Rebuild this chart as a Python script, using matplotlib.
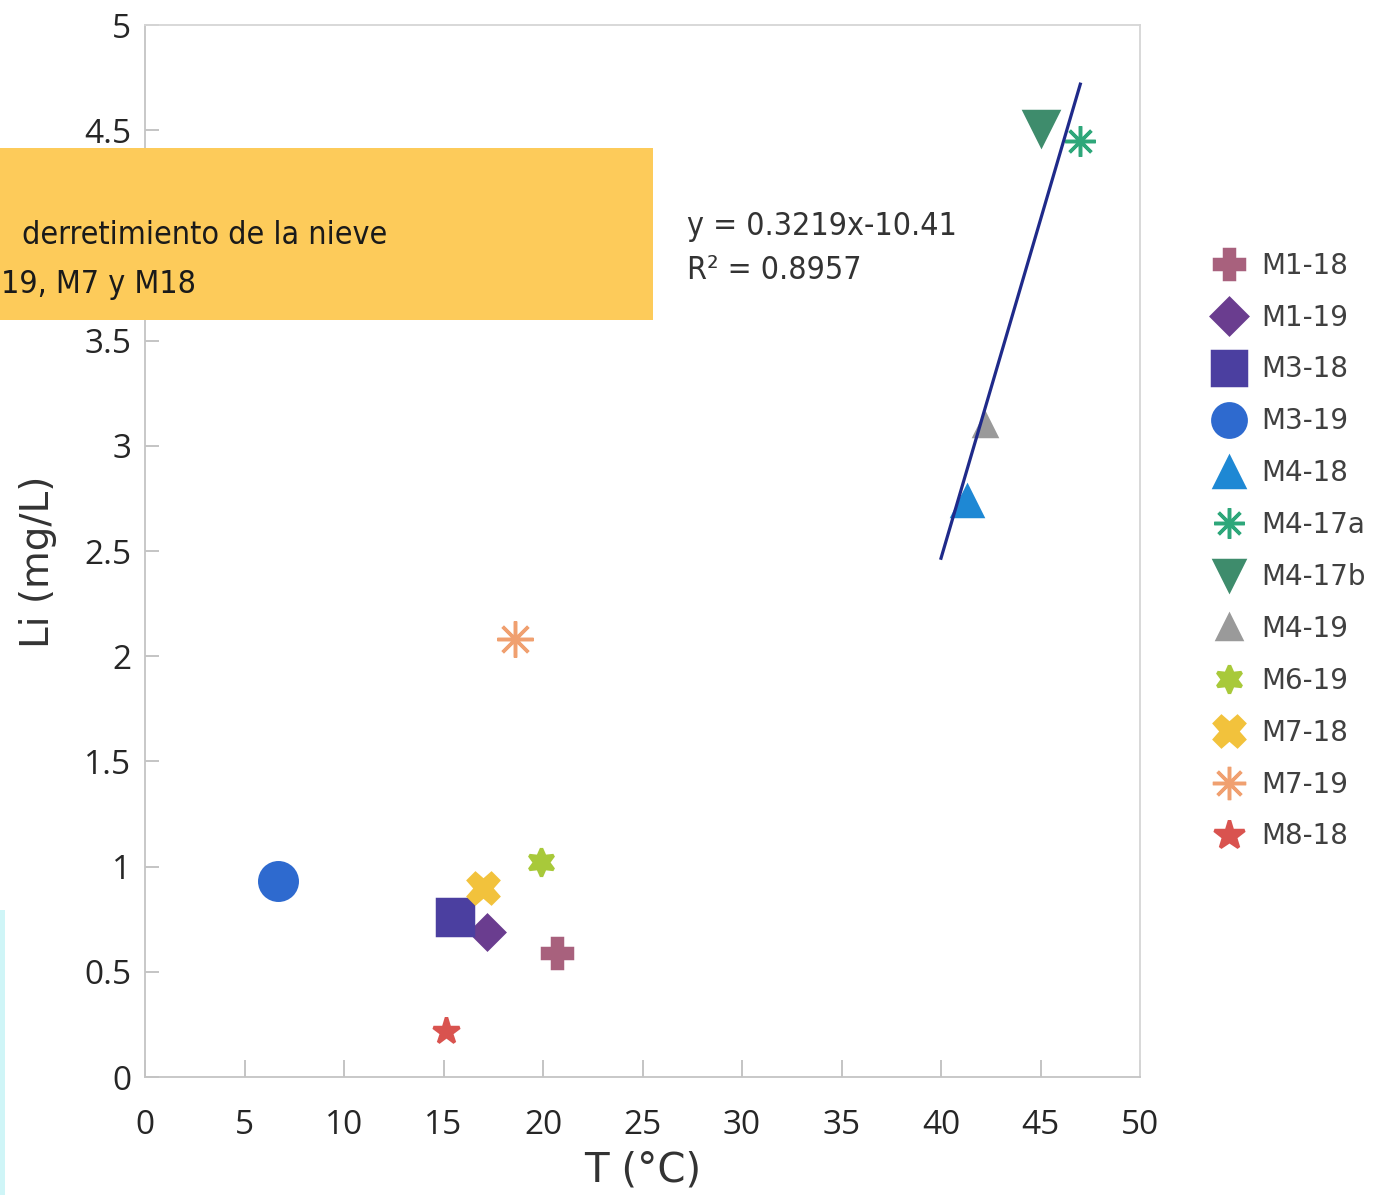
import numpy as np
import matplotlib
matplotlib.use('Agg')
import matplotlib.pyplot as plt
from matplotlib.patches import Rectangle

# data
samples = ['M1-18', 'M1-19', 'M3-18', 'M3-19', 'M4-18', 'M4-17a', 'M4-17b',
           'M4-19', 'M6-19', 'M7-18', 'M7-19', 'M8-18']
temp = [20.7, 17.2, 15.6, 6.7, 41.3, 47.0, 45.0, 42.2, 19.9, 17.0, 18.6, 15.1]
li = [0.59, 0.69, 0.76, 0.93, 2.74, 4.45, 4.51, 3.10, 1.02, 0.90, 2.08, 0.22]
fit_slope = 0.3219
fit_icept = -10.41
fit_x = [40.0, 47.0]
xticks = [0, 5, 10, 15, 20, 25, 30, 35, 40, 45, 50]
yticks = [0, 0.5, 1, 1.5, 2, 2.5, 3, 3.5, 4, 4.5, 5]
banner = ['derretimiento de la nieve', '19, M7 y M18']

# marker styles
markers = ['P', 'D', 's', 'o', '^', (8, 2, 0), 'v', '^', (6, 1, 0), 'X', (8, 2, 0), '*']
colors = ['#A8617D', '#6A3D8F', '#4B3FA0', '#2E6ACF', '#1E88D4', '#2EA77A',
          '#3E8C6C', '#9A9A9A', '#A8C93A', '#F2C23C', '#F0A070', '#D9534F']
sizes = [22, 17, 26, 27, 22, 22, 24, 16, 20, 22, 26, 20]
lsizes = [22, 18, 24, 24, 22, 22, 22, 17, 20, 22, 24, 22]

fig = plt.figure(figsize=(13.84, 11.95), dpi=100)
ax = fig.add_axes([0.1048, 0.0987, 0.7189, 0.8803])

handles = []
for i in range(len(samples)):
    ax.plot(temp[i], li[i], linestyle='none', marker=markers[i], color=colors[i],
            markersize=sizes[i], markeredgewidth=2.5, zorder=3)
    h, = ax.plot([], [], linestyle='none', marker=markers[i], color=colors[i],
                 markersize=lsizes[i], markeredgewidth=2.5, label=samples[i])
    handles.append(h)

fx = np.array(fit_x)
ax.plot(fx, fit_slope * fx + fit_icept, color='#1F2A8A', linewidth=2.3, zorder=4)

ax.set_xlim(0, 50)
ax.set_ylim(0, 5)
ax.set_xticks(xticks)
ax.set_yticks(yticks)
ax.set_xticklabels([str(t) for t in xticks], fontsize=24, family='Open Sans', color='#262626')
ax.set_yticklabels([('%g' % t) for t in yticks], fontsize=24, family='Open Sans', color='#262626')
ax.tick_params(axis='x', direction='in', length=12, width=1.3, color='#BFBFBF', pad=23)
ax.tick_params(axis='y', direction='in', length=10, width=1.3, color='#BFBFBF', pad=10)
# the "4" label sits under the banner
ax.get_yticklabels()[8].set_visible(False)
for s in ax.spines.values():
    s.set_color('#D6D6D6')
    s.set_linewidth(1.3)
ax.spines['left'].set_color('#C4C4C4')
ax.spines['bottom'].set_color('#C4C4C4')

ax.set_xlabel('T (°C)', fontsize=29, color='#333333', labelpad=6)
ax.set_ylabel('Li (mg/L)', fontsize=28, color='#333333', labelpad=20)
ax.yaxis.set_label_coords(-0.088, 0.49)

ax.text(0.545, 0.788, 'y = 0.3219x-10.41\nR² = 0.8957', transform=ax.transAxes,
        fontsize=23, family='DejaVu Sans', stretch='condensed', color='#333333',
        linespacing=1.55, va='center')

ax.legend(handles=handles, loc='center left', bbox_to_anchor=(1.062, 0.5),
          frameon=False, fontsize=20, labelcolor='#404040', handletextpad=0.55,
          labelspacing=0.86, handlelength=1.2, borderaxespad=0)

# orange banner cut at the left border
fig.patches.append(Rectangle((0, 1 - 320 / 1195), 653 / 1384, 172 / 1195,
                             transform=fig.transFigure, facecolor='#FDCB5A',
                             edgecolor='none', zorder=5))
fig.text(22 / 1384, 1 - 236 / 1195, banner[0], fontsize=23, family='DejaVu Sans',
         stretch='condensed', color='#1a1a1a', va='center', zorder=6)
fig.text(0.001, 1 - 284 / 1195, banner[1], fontsize=23, family='DejaVu Sans',
         stretch='condensed', color='#1a1a1a', va='center', zorder=6)
fig.patches.append(Rectangle((0, 0), 5 / 1384, 285 / 1195, transform=fig.transFigure,
                             facecolor='#CFF5F7', edgecolor='none', zorder=5))

fig.savefig('out.png', dpi=100)
